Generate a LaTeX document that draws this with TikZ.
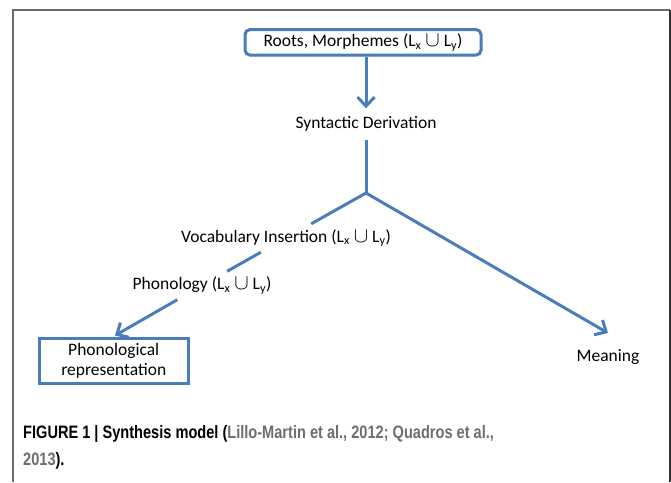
\documentclass[tikz,border=0pt]{standalone}
\usepackage{fontspec}
\setmainfont{Carlito}
\newfontfamily\capfont[FakeStretch=0.81]{Liberation Sans}
\usetikzlibrary{arrows.meta,shadows}
\definecolor{lineblue}{HTML}{4A7EBB}
\definecolor{citegray}{HTML}{6D6E71}
\definecolor{framegray}{HTML}{6A6A6A}
\newcommand{\Lsub}[1]{L\textsubscript{#1}}
\newcommand{\unionsym}{\scalebox{1.25}{$\cup$}}
\begin{document}
\begin{tikzpicture}[x=1pt,y=-1pt,
  difont/.style={font=\fontsize{17.5}{20}\selectfont},
  bluebox/.style={draw=lineblue, line width=3pt, difont, inner sep=0pt, align=center, fill=white,
    drop shadow={opacity=0.25, shadow xshift=1pt, shadow yshift=-1.5pt}},
  lbl/.style={difont, fill=white, inner sep=2pt, minimum height=28pt},
  conn/.style={draw=lineblue, line width=3pt},
  arr/.style={conn, -{Straight Barb[length=9pt,width=17pt]}},
  captext/.style={font=\capfont\bfseries\fontsize{18}{27}\selectfont, inner sep=0pt, anchor=base west}
]
\useasboundingbox (0,0) rectangle (671,482);
% frame
\draw[framegray, line width=1.8pt] (13,482) -- (13,10) -- (670,10);
\draw[black!80, line width=1.8pt] (670,10) -- (670,482);

% nodes
\node[bluebox, rounded corners=5pt, minimum width=236pt, minimum height=25.5pt] (roots) at (363,42.3) {Roots, Morphemes (\Lsub{x} \unionsym{} \Lsub{y})};
\node[lbl, minimum height=31pt] (synt) at (366,124) {Syntactic Derivation};
\coordinate (apex) at (366,193);
\node[lbl] (voc) at (286,238) {Vocabulary Insertion (\Lsub{x} \unionsym{} \Lsub{y})};
\node[lbl] (phon) at (202,285.5) {Phonology (\Lsub{x} \unionsym{} \Lsub{y})};
\coordinate (ptip) at (115,335.5);
\node[bluebox, minimum width=149.5pt, minimum height=45pt] (pbox) at (113.75,361) {Phonological\\representation};
\coordinate (mtip) at (608,333);
\node[difont, inner sep=0pt] (meaning) at (608,357) {Meaning};

% connectors
\draw[arr] (roots.south -| synt.north) -- (synt.north);
\draw[conn] (synt.south) -- (apex);
\draw[conn] (apex) -- (voc);
\draw[conn] (voc) -- (phon);
\draw[arr] (phon) -- (ptip);
\draw[arr] (apex) -- (mtip);

% caption
\node[captext] (cap1) at (23,438) {FIGURE 1 | Synthesis model (\textcolor{citegray}{Lillo-Martin et al., 2012; Quadros et al.,}};
\node[captext] (cap2) at (23,465) {\textcolor{citegray}{2013}).};
\end{tikzpicture}
\end{document}
